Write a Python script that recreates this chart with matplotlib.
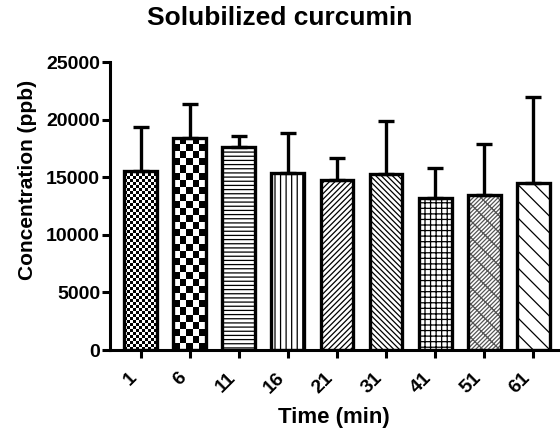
import matplotlib
matplotlib.use("Agg")
import matplotlib.pyplot as plt
import numpy as np

plt.rcParams['font.family'] = ['Liberation Sans', 'DejaVu Sans']
plt.rcParams['font.weight'] = 'bold'
plt.rcParams['hatch.linewidth'] = 0.9

# data
times = ['1', '6', '11', '16', '21', '31', '41', '51', '61']
conc = [15560, 18430, 17650, 15390, 14760, 15330, 13170, 13510, 14470]
err_top = [19380, 21410, 18580, 18810, 16640, 19880, 15770, 17880, 21990]
hatches = [None, None, '----', '|||', '//////', '\\\\\\\\\\\\', '+++', 'xx//////', '\\\\']
checker_px = {0: 3, 1: 7}   # bars drawn with checkerboard fills (cell size in px)

sd = [t - c for t, c in zip(err_top, conc)]
x = np.arange(len(times))

fig = plt.figure(figsize=(5.6, 4.29), dpi=100)
ax = fig.add_axes([0.196, 0.184, 0.8, 0.671])

ax.set_xlim(-0.63, 8.5)
ax.set_ylim(0, 25000)

bars = ax.bar(x, conc, width=0.67, color='white', edgecolor='black',
              linewidth=0, zorder=2)
for b, h in zip(bars, hatches):
    if h:
        b.set_hatch(h)
bars[7].set_edgecolor('#555555')

# checkerboard fills
fig.canvas.draw()
for i, cell in checker_px.items():
    b = bars[i]
    x0, w, h = b.get_x(), b.get_width(), b.get_height()
    p0 = ax.transData.transform((x0, 0))
    p1 = ax.transData.transform((x0 + w, h))
    nx = max(1, int(round(abs(p1[0] - p0[0]) / cell)))
    ny = max(1, int(round(abs(p1[1] - p0[1]) / cell)))
    board = (np.add.outer(np.arange(ny), np.arange(nx)) % 2).astype(float)
    im = ax.imshow(board, cmap='gray', extent=[x0, x0 + w, 0, h],
                   interpolation='nearest', aspect='auto', zorder=2.1, origin='lower')
    im.set_clip_path(b)

ax.set_xlim(-0.63, 8.5)
ax.set_ylim(0, 25000)

ax.bar(x, conc, width=0.67, fill=False, edgecolor='black', linewidth=2.4, zorder=3)
ax.errorbar(x, conc, yerr=[np.zeros(len(sd)), sd], fmt='none', ecolor='black',
            elinewidth=2.4, capsize=6, capthick=2.4, zorder=2.5)

for s in ['top', 'right']:
    ax.spines[s].set_visible(False)
for s in ['left', 'bottom']:
    ax.spines[s].set_linewidth(2.2)

ax.set_yticks(np.arange(0, 25001, 5000))
ax.set_xticks(x)
ax.set_xticklabels(times, rotation=45, ha='right', va='top')
ax.tick_params(axis='both', width=2.2, length=6, labelsize=14)
ax.tick_params(axis='y', pad=1)
ax.tick_params(axis='x', pad=8)

fig.suptitle('Solubilized curcumin', fontsize=19, fontweight='bold', x=0.5, y=0.985)
ax.set_ylabel('Concentration (ppb)', fontsize=15, fontweight='bold')
ax.yaxis.set_label_coords(-0.163, 0.59)
ax.set_xlabel('Time (min)', fontsize=16, fontweight='bold', labelpad=7)

fig.savefig('out.png', dpi=100)
